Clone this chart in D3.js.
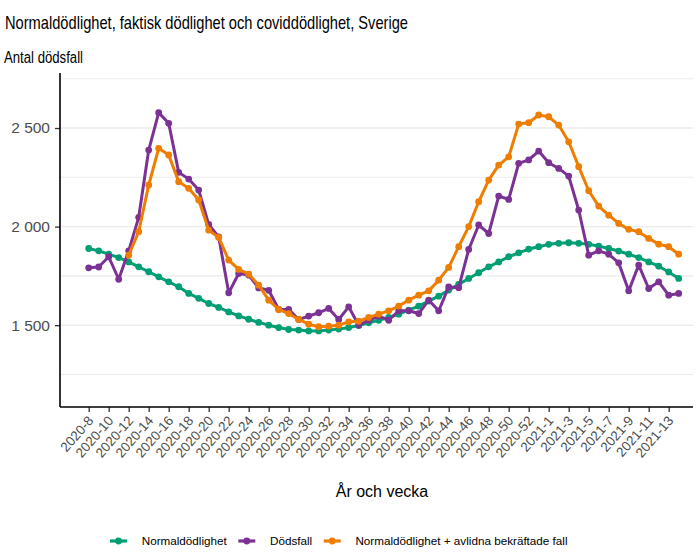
<!DOCTYPE html>
<html>
<head>
<meta charset="utf-8">
<script src="https://cdn.jsdelivr.net/npm/d3@7"></script>
<style>
  body { margin: 0; background: #fff; }
  text { font-family: "Liberation Sans", Arial, sans-serif; }
</style>
</head>
<body>
<svg id="chart"></svg>
<script>
// weeks (2020 has a week 53)
var weeks = ["2020-8","2020-9","2020-10","2020-11","2020-12","2020-13","2020-14","2020-15","2020-16","2020-17",
  "2020-18","2020-19","2020-20","2020-21","2020-22","2020-23","2020-24","2020-25","2020-26","2020-27",
  "2020-28","2020-29","2020-30","2020-31","2020-32","2020-33","2020-34","2020-35","2020-36","2020-37",
  "2020-38","2020-39","2020-40","2020-41","2020-42","2020-43","2020-44","2020-45","2020-46","2020-47",
  "2020-48","2020-49","2020-50","2020-51","2020-52","2020-53","2021-1","2021-2","2021-3","2021-4",
  "2021-5","2021-6","2021-7","2021-8","2021-9","2021-10","2021-11","2021-12","2021-13","2021-14"]

var tickLabels = ["2020-8","2020-10","2020-12","2020-14","2020-16","2020-18","2020-20","2020-22","2020-24",
  "2020-26","2020-28","2020-30","2020-32","2020-34","2020-36","2020-38","2020-40","2020-42","2020-44",
  "2020-46","2020-48","2020-50","2020-52","2021-1","2021-3","2021-5","2021-7","2021-9","2021-11","2021-13"]

var normal = [1889,1877,1860,1843,1821,1796,1771,1745,1720,1695,
  1661,1636,1610,1590,1567,1547,1530,1514,1500,1488,
  1478,1475,1471,1471,1475,1480,1488,1498,1512,1525,
  1539,1556,1576,1597,1622,1647,1678,1707,1737,1766,
  1796,1821,1847,1867,1886,1898,1910,1915,1918,1915,
  1910,1901,1889,1876,1860,1843,1821,1799,1770,1737]

var deaths = [1791,1795,1847,1733,1877,2047,2388,2578,2524,2275,
  2241,2185,2011,1948,1664,1762,1754,1689,1677,1580,
  1580,1529,1546,1563,1585,1529,1593,1500,1525,1546,
  1525,1573,1573,1559,1627,1573,1694,1690,1884,2008,
  1965,2155,2138,2321,2338,2383,2324,2295,2256,2084,
  1855,1877,1860,1816,1674,1805,1686,1720,1652,1661]

var normalPlusCovid = [null,null,null,null,1855,1974,2211,2397,2363,2228,
  2194,2135,1982,1945,1830,1783,1759,1703,1627,1580,
  1559,1529,1505,1492,1495,1500,1517,1520,1539,1556,
  1573,1597,1627,1652,1674,1728,1793,1898,2000,2126,
  2236,2312,2354,2520,2527,2566,2557,2515,2430,2304,
  2182,2104,2058,2016,1986,1974,1940,1911,1898,1860]

var seriesNames = ["Normaldödlighet", "Dödsfall", "Normaldödlighet + avlidna bekräftade fall"]
var colors = ["#009e73", "#7b3294", "#ef7d00"]
var yMajor = [1500, 2000, 2500]
var yMinor = [1250, 1750, 2250, 2750]

var width = 700, height = 556
var panel = { left: 60, right: 693, top: 73, bottom: 407 }

var svg = d3.select('#chart')
    .attr('width', width)
    .attr('height', height)

var x = d3.scalePoint()
    .domain(weeks)
    .range([panel.left + 28.7, panel.right - 14.3])

var y = d3.scaleLinear()
    .domain([1085, 2779])
    .range([panel.bottom, panel.top])

var sv = d3.formatLocale({ decimal: ",", thousands: "\u00a0", grouping: [3], currency: ["", " kr"] })
var fmt = sv.format(",")

// title and subtitle (narrow look in the original)
svg.append('text')
    .attr('x', 5).attr('y', 29)
    .attr('font-size', 18.5)
    .attr('textLength', 403).attr('lengthAdjust', 'spacingAndGlyphs')
    .attr('fill', '#000')
    .text('Normaldödlighet, faktisk dödlighet och coviddödlighet, Sverige')

svg.append('text')
    .attr('x', 4).attr('y', 63)
    .attr('font-size', 16)
    .attr('textLength', 79).attr('lengthAdjust', 'spacingAndGlyphs')
    .attr('fill', '#000')
    .text('Antal dödsfall')

// grid
svg.append('g').selectAll('line')
    .data(yMinor.concat(yMajor))
    .enter().append('line')
    .attr('x1', panel.left).attr('x2', panel.right)
    .attr('y1', function(d) { return y(d) })
    .attr('y2', function(d) { return y(d) })
    .attr('stroke', '#ebebeb')
    .attr('stroke-width', function(d) { return yMajor.indexOf(d) >= 0 ? 1.4 : 1.1 })

// axes
var yAxis = svg.append('g')
    .attr('transform', 'translate(' + panel.left + ',0)')
    .call(d3.axisLeft(y).tickValues(yMajor).tickFormat(fmt).tickSize(5).tickPadding(5))
yAxis.select('.domain').remove()
yAxis.selectAll('.tick line').attr('stroke', '#333').attr('stroke-width', 1.3)
yAxis.selectAll('.tick text')
    .attr('font-size', 15.5).attr('fill', '#4d4d4d')
    .style('font-family', '"Liberation Sans", Arial, sans-serif')

var xAxis = svg.append('g')
    .attr('transform', 'translate(0,' + panel.bottom + ')')
    .call(d3.axisBottom(x).tickValues(tickLabels).tickSize(5).tickFormat(function(d) { return d }))
xAxis.select('.domain').remove()
xAxis.selectAll('.tick line').attr('stroke', '#333').attr('stroke-width', 1.3)
xAxis.selectAll('.tick text')
    .attr('font-size', 13.5).attr('fill', '#4d4d4d')
    .style('font-family', '"Liberation Sans", Arial, sans-serif')
    .attr('text-anchor', 'end')
    .attr('dy', null)
    .attr('y', 0)
    .attr('transform', 'translate(5,14) rotate(-49)')

// axis lines
svg.append('line')
    .attr('x1', panel.left).attr('x2', panel.left)
    .attr('y1', panel.top).attr('y2', panel.bottom)
    .attr('stroke', '#000').attr('stroke-width', 1.6)
svg.append('line')
    .attr('x1', panel.left).attr('x2', panel.right)
    .attr('y1', panel.bottom).attr('y2', panel.bottom)
    .attr('stroke', '#000').attr('stroke-width', 1.6)

svg.append('text')
    .attr('x', 382).attr('y', 497)
    .attr('text-anchor', 'middle')
    .attr('font-size', 16)
    .attr('fill', '#000')
    .text('År och vecka')

// series
var allSeries = [normal, deaths, normalPlusCovid]

var line = d3.line()
    .defined(function(d) { return d != null })
    .x(function(d, i) { return x(weeks[i]) })
    .y(function(d) { return y(d) })

allSeries.forEach(function(vals, k) {
    var g = svg.append('g')
    g.append('path')
        .attr('d', line(vals))
        .attr('fill', 'none')
        .attr('stroke', colors[k])
        .attr('stroke-width', 3)
        .attr('stroke-linejoin', 'round')
    g.selectAll('circle')
        .data(vals.map(function(v, i) { return { v: v, w: weeks[i] } }).filter(function(d) { return d.v != null }))
        .enter().append('circle')
        .attr('cx', function(d) { return x(d.w) })
        .attr('cy', function(d) { return y(d.v) })
        .attr('r', 3.4)
        .attr('fill', colors[k])
})

// legend
var legend = svg.append('g')
var lx = 0, ly = 541
seriesNames.forEach(function(name, k) {
    var it = legend.append('g').attr('transform', 'translate(' + lx + ',0)')
    it.append('line').attr('x1', 0).attr('x2', 17).attr('y1', ly).attr('y2', ly)
        .attr('stroke', colors[k]).attr('stroke-width', 3.2)
    it.append('circle').attr('cx', 8.5).attr('cy', ly).attr('r', 3.4).attr('fill', colors[k])
    var t = it.append('text').attr('x', 31.7).attr('y', ly + 4.3)
        .attr('font-size', 11.7).attr('fill', '#000').text(name)
    lx += 31.7 + t.node().getComputedTextLength() + 11.5
})
legend.attr('transform', 'translate(110,0)')
</script>
</body>
</html>
